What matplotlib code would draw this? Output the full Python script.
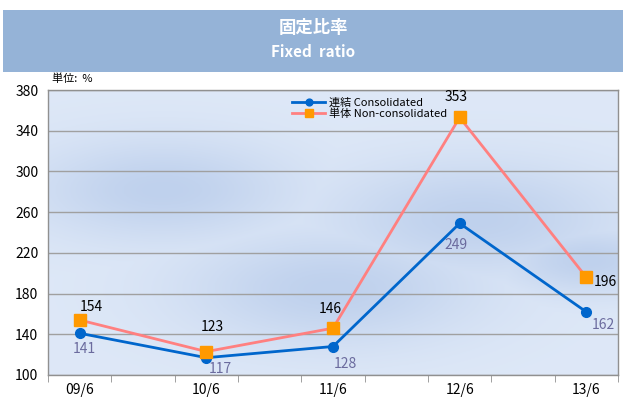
import numpy as np
import matplotlib
matplotlib.use("Agg")
import matplotlib.pyplot as plt
from matplotlib.patches import Rectangle

plt.rcParams['font.family'] = ['Noto Sans CJK JP', 'DejaVu Sans']

categories = ["09/6", "10/6", "11/6", "12/6", "13/6"]
consolidated = [141, 117, 128, 249, 162]
non_consolidated = [154, 123, 146, 353, 196]
yticks = [100, 140, 180, 220, 260, 300, 340, 380]

W, H = 623, 401
fig = plt.figure(figsize=(W / 100, H / 100), dpi=100)
fig.patch.set_facecolor("white")

# Title banner
fig.patches.append(Rectangle((3 / W, 1 - 72 / H), 620 / W, 62 / H,
                             transform=fig.transFigure, facecolor="#95B3D7",
                             edgecolor="none", zorder=0))
fig.text(0.5 + 1.5 / W, 1 - 28 / H, "固定比率", color="white", fontsize=12.5,
         fontweight="bold", ha="center", va="center")
fig.text(0.5 + 1.5 / W, 1 - 52 / H, "Fixed  ratio", color="white", fontsize=11,
         fontweight="bold", ha="center", va="center")

left, right, top, bottom = 48, 618, 90, 375
ax = fig.add_axes([left / W, 1 - bottom / H, (right - left) / W, (bottom - top) / H])

x = np.arange(len(categories))
ax.set_xlim(-0.25, len(categories) - 0.75)
ax.set_ylim(100, 380)

# background soft gradient
gx, gy = np.meshgrid(np.linspace(0, 1, 300), np.linspace(0, 1, 200))
base = np.array([0.87, 0.91, 0.97])
dark = np.array([0.75, 0.82, 0.93])
blobs = [(0.2, 0.65, 0.18), (0.75, 0.55, 0.2), (0.5, 0.3, 0.2), (0.95, 0.4, 0.12)]
w = np.zeros_like(gx)
for cx, cy, s in blobs:
    w = np.maximum(w, np.exp(-(((gx - cx) / (s * 1.3)) ** 2 + ((gy - cy) / s) ** 2)))
img = base[None, None, :] * (1 - w[..., None]) + dark[None, None, :] * w[..., None]
ax.imshow(img, extent=(-0.25, len(categories) - 0.75, 100, 380), aspect="auto",
          zorder=0, origin="lower")

ax.set_yticks(yticks)
ax.grid(axis="y", color="#A0A0A0", linewidth=1.0, zorder=1)
ax.set_axisbelow(True)
for s in ax.spines.values():
    s.set_color("#909090")
    s.set_linewidth(1.0)

ax.set_xticks(x)
ax.set_xticklabels(categories)
ax.set_xticks(np.arange(-0.25, len(categories) - 0.5, 0.5), minor=True)
ax.tick_params(axis="x", which="major", length=0, pad=6, labelsize=10)
ax.tick_params(axis="x", which="minor", length=5, color="#909090", direction="out")
ax.tick_params(axis="y", length=0, pad=7, labelsize=10)

ax.plot(x, consolidated, color="#0066CC", linewidth=2, marker="o", markersize=7,
        markerfacecolor="#0066CC", markeredgecolor="#0066CC", zorder=3,
        label="連結 Consolidated")
ax.plot(x, non_consolidated, color="#FF8080", linewidth=2, marker="s", markersize=8,
        markerfacecolor="#FF9900", markeredgecolor="#FF9900", zorder=4,
        label="単体 Non-consolidated")

nc_offsets = [(12, 13), (6, 25), (-3, 19), (-4, 20), (19, -5)]
c_offsets = [(5, -16), (14, -11), (12, -18), (-4, -22), (17, -13)]
for xi, v, (dx, dy) in zip(x, non_consolidated, nc_offsets):
    ax.annotate(str(v), (xi, v), xytext=(dx, dy), textcoords="offset pixels",
                ha="center", va="center", fontsize=10, color="black", zorder=5)
for xi, v, (dx, dy) in zip(x, consolidated, c_offsets):
    ax.annotate(str(v), (xi, v), xytext=(dx, dy), textcoords="offset pixels",
                ha="center", va="center", fontsize=10, color="#6B6B9E", zorder=5)

leg = ax.legend(loc="upper left", bbox_to_anchor=((283 - left) / (right - left), 1.005),
                frameon=False, fontsize=8, handlelength=3.0, borderpad=0.3,
                labelspacing=0.05, handletextpad=0.3, markerscale=0.7)

fig.text(52 / W, 1 - 79 / H, "単位:  %", fontsize=8, ha="left", va="center")

fig.savefig("out.png", dpi=100)
